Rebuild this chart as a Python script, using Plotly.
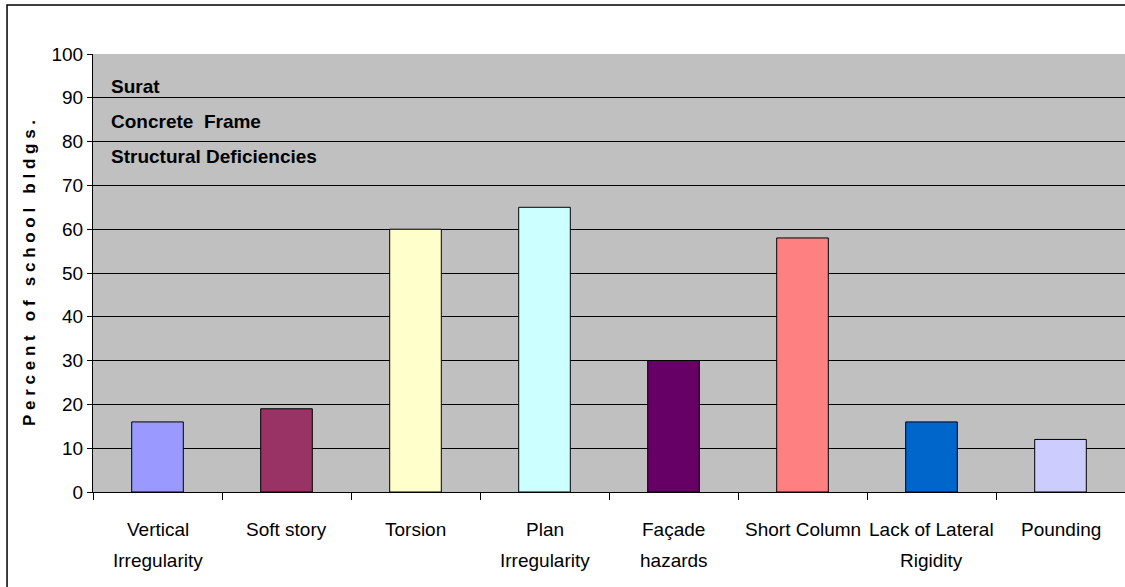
import plotly.graph_objects as go

categories = ["Vertical Irregularity", "Soft story", "Torsion", "Plan Irregularity",
              "Façade hazards", "Short Column", "Lack of Lateral Rigidity", "Pounding"]
tick_lines = [["Vertical", "Irregularity"], ["Soft story"], ["Torsion"], ["Plan", "Irregularity"],
              ["Façade", "hazards"], ["Short Column"], ["Lack of Lateral", "Rigidity"], ["Pounding"]]
values = [16, 19, 60, 65, 30, 58, 16, 12]
bar_colors = ["#9999FF", "#993366", "#FFFFCC", "#CCFFFF", "#660066", "#FF8080", "#0066CC", "#CCCCFF"]
y_ticks = list(range(0, 101, 10))
notes = ["Surat", "Concrete  Frame", "Structural Deficiencies"]
y_title = "Percent of school bldgs."

FONT = "Liberation Sans, Arial"

spaced = "\u00a0".join(list(y_title)).replace("\u00a0\u00a0\u00a0", "\u00a0\u00a0\u00a0\u00a0")

fig = go.Figure(go.Bar(
    x=categories, y=values, width=0.4,
    marker=dict(color=bar_colors, line=dict(color="black", width=1)),
))

fig.update_layout(
    width=1125, height=587,
    margin=dict(l=93, r=0, t=54, b=95, autoexpand=False),
    paper_bgcolor="white", plot_bgcolor="#C0C0C0",
    showlegend=False,
    font=dict(family=FONT, size=18, color="black"),
)
fig.update_xaxes(
    tickson="boundaries", ticks="outside", ticklen=7, tickcolor="black", tickwidth=1,
    showline=True, linecolor="black", linewidth=1,
    showgrid=False, showticklabels=False, automargin=False,
)
fig.update_yaxes(
    range=[0, 100], tickvals=y_ticks, ticks="outside", ticklen=5, tickcolor="black",
    showline=True, linecolor="black", linewidth=1,
    showgrid=True, gridcolor="black", gridwidth=1, zeroline=False,
    tickfont=dict(family=FONT, size=19), automargin=False,
    title=dict(text="<b>" + spaced + "</b>", font=dict(family=FONT, size=17, color="black"), standoff=11),
)

for cat, lines in zip(categories, tick_lines):
    for j, line in enumerate(lines):
        fig.add_annotation(
            x=cat, y=0, xref="x", yref="paper", yshift=-37 - 31 * j,
            text=line, showarrow=False, xanchor="center", yanchor="middle",
            font=dict(family=FONT, size=19, color="black"),
        )

for i, t in enumerate(notes):
    fig.add_annotation(
        x=0, y=92.5 - i * 8, xref="x domain", yref="y",
        xshift=16, text="<b>" + t + "</b>", showarrow=False,
        xanchor="left", yanchor="middle",
        font=dict(family=FONT, size=19, color="black"),
    )

fig.add_shape(type="rect", xref="paper", yref="paper",
              x0=-0.0833, x1=1.02, y0=-0.4, y1=1.112,
              line=dict(color="black", width=1.5), fillcolor="rgba(0,0,0,0)", layer="below")

fig.write_html("out.html")
